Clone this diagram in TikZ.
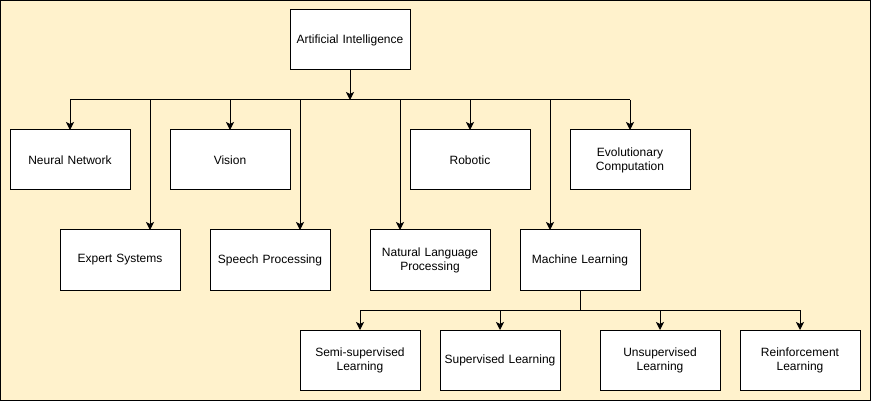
\documentclass[tikz,border=0pt]{standalone}
\usepackage{fontspec}
\setmainfont{Liberation Sans}
\usetikzlibrary{arrows.meta}
\definecolor{bgyellow}{HTML}{FFF2CC}
\tikzset{
  box/.style={draw=black, fill=white, line width=1pt, minimum width=120pt, minimum height=60pt,
    inner sep=2pt, outer sep=0pt, align=center, font=\fontsize{12}{14}\selectfont, text width=114pt},
  link/.style={line width=1pt, -{Stealth[length=8pt,width=8pt,inset=2pt]}},
  line/.style={line width=1pt}
}
\begin{document}
\begin{tikzpicture}[x=1pt,y=-1pt]
\useasboundingbox (0,0) rectangle (871,401);
\draw[fill=bgyellow, line width=1pt] (0.5,0.5) rectangle (870.5,400.5);
% nodes
\node[box] (ai) at (350,40) {Artificial Intelligence};
\node[box] (nn) at (70,160) {Neural Network};
\node[box] (vis) at (230,160) {Vision};
\node[box] (rob) at (470,160) {Robotic};
\node[box] (evo) at (630,160) {Evolutionary\\Computation};
\node[box] (exp) at (120,260) {Expert Systems};
\node[box] (sp) at (270,260) {Speech Processing};
\node[box] (nlp) at (430,260) {Natural Language\\Processing};
\node[box] (ml) at (580,260) {Machine Learning};
\node[box] (semi) at (360,360) {Semi-supervised\\Learning};
\node[box] (sup) at (500,360) {Supervised Learning};
\node[box] (uns) at (660,360) {Unsupervised\\Learning};
\node[box] (rei) at (800,360) {Reinforcement\\Learning};
% bus coordinates
\coordinate (bus) at (350,100);
\coordinate (b1) at (70,100);
\coordinate (b2) at (630,100);
\coordinate (mlbus) at (580,310);
\coordinate (m1) at (360,310);
\coordinate (m2) at (800,310);
% connectors
\draw[link] (ai.south) -- (bus);
\draw[line] (b1) -- (b2);
\draw[link] (b1) -- (nn.north);
\draw[link] (230,100) -- (vis.north);
\draw[link] (470,100) -- (rob.north);
\draw[link] (b2) -- (evo.north);
\draw[link] (150,100) -- (exp.north -| 150,0);
\draw[link] (300,100) -- (sp.north -| 300,0);
\draw[link] (400,100) -- (nlp.north -| 400,0);
\draw[link] (550,100) -- (ml.north -| 550,0);
\draw[line] (ml.south) -- (mlbus);
\draw[line] (m1) -- (m2);
\draw[link] (m1) -- (semi.north);
\draw[link] (500,310) -- (sup.north);
\draw[link] (660,310) -- (uns.north);
\draw[link] (m2) -- (rei.north);
\end{tikzpicture}
\end{document}
